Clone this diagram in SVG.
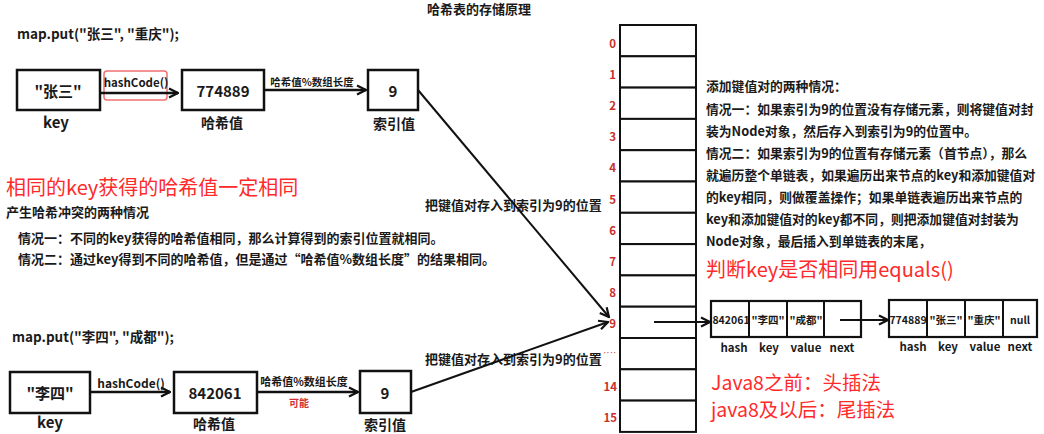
<svg xmlns="http://www.w3.org/2000/svg" width="1044" height="434" viewBox="0 0 1044 434">
<defs>
<marker id="arr" viewBox="0 0 12 12" refX="11" refY="6" markerWidth="12" markerHeight="12" markerUnits="userSpaceOnUse" orient="auto">
<path d="M2,1.5 L11,6 L2,10.5" fill="none" stroke="#111" stroke-width="2.2" stroke-linejoin="miter"/>
</marker>
<style>
text{font-family:"Noto Sans CJK SC","Noto Sans",sans-serif;dominant-baseline:central;fill:#1a1a1a}
.b{font-weight:bold}
.c{text-anchor:middle}
.box{fill:#fff;stroke:#111;stroke-width:2.5}
.cell{fill:#fff;stroke:#111;stroke-width:2}
.ln{stroke:#111;stroke-width:2;fill:none}
.idx{font-weight:bold;font-size:11.5px;fill:#c9302c;text-anchor:end}
.red{fill:#ff2a2a;font-size:20px}
.blk{font-weight:bold;font-size:13px}
.rt{font-weight:bold;font-size:12.8px}
.lbl{font-weight:bold;font-size:11.5px;text-anchor:middle}
.ct{font-weight:bold;font-size:10.5px;text-anchor:middle}
</style>
</defs>
<rect width="1044" height="434" fill="#fff"/>

<text x="479" y="8" class="b c" font-size="13">哈希表的存储原理</text>

<!-- top row -->
<text x="17" y="33" class="b" font-size="13.5">map.put("张三", "重庆");</text>
<g id="key1"><rect class="box" x="17" y="70" width="83" height="40"/><text x="58" y="90" class="b c" font-size="15">"张三"</text><text x="56" y="121" class="b c" font-size="15">key</text></g>
<g id="hash1"><rect class="box" x="182" y="70" width="82" height="40"/><text x="223" y="90" class="b c" font-size="15">774889</text><text x="222" y="122" class="b c" font-size="14">哈希值</text></g>
<g id="idx1"><rect class="box" x="368" y="70" width="50" height="40"/><text x="393" y="90" class="b c" font-size="15">9</text><text x="394" y="123" class="b c" font-size="14">索引值</text></g>
<rect x="104" y="71" width="63" height="29" rx="3" fill="none" stroke="#f07070" stroke-width="1.5"/>

<!-- left texts -->
<text x="6" y="186" class="red">相同的key获得的哈希值一定相同</text>
<text x="6" y="211" class="blk">产生哈希冲突的两种情况</text>
<text x="18" y="237" class="blk">情况一：不同的key获得的哈希值相同，那么计算得到的索引位置就相同。</text>
<text x="18" y="258" class="blk">情况二：通过key得到不同的哈希值，但是通过“哈希值%数组长度”的结果相同。</text>

<text x="425" y="204" class="blk">把键值对存入到索引为9的位置</text>
<text x="425" y="358" class="blk">把键值对存入到索引为9的位置</text>

<!-- bottom row -->
<text x="12" y="336" class="b" font-size="13.5">map.put("李四", "成都");</text>
<g id="key2"><rect class="box" x="10" y="372" width="80" height="41"/><text x="50" y="392" class="b c" font-size="15">"李四"</text><text x="50" y="421" class="b c" font-size="15">key</text></g>
<g id="hash2"><rect class="box" x="174" y="372" width="83" height="41"/><text x="215" y="392" class="b c" font-size="15">842061</text><text x="214" y="423" class="b c" font-size="14">哈希值</text></g>
<g id="idx2"><rect class="box" x="360" y="371" width="51" height="42"/><text x="385" y="392" class="b c" font-size="15">9</text><text x="385" y="424" class="b c" font-size="14">索引值</text></g>
<text x="299" y="402" class="b c" font-size="10" style="fill:#d03030">可能</text>

<!-- array -->
<g id="array">
<rect class="cell" x="620" y="25" width="76" height="31.3"/>
<rect class="cell" x="620" y="56.3" width="76" height="31.3"/>
<rect class="cell" x="620" y="87.6" width="76" height="31.3"/>
<rect class="cell" x="620" y="118.9" width="76" height="31.3"/>
<rect class="cell" x="620" y="150.2" width="76" height="31.3"/>
<rect class="cell" x="620" y="181.5" width="76" height="31.3"/>
<rect class="cell" x="620" y="212.8" width="76" height="31.3"/>
<rect class="cell" x="620" y="244.1" width="76" height="31.3"/>
<rect class="cell" x="620" y="275.4" width="76" height="31.3"/>
<rect class="cell" x="620" y="306.7" width="76" height="31.3"/>
<rect class="cell" x="620" y="338" width="76" height="31.3"/>
<rect class="cell" x="620" y="369.3" width="76" height="31.3"/>
<rect class="cell" x="620" y="400.6" width="76" height="31.3"/>
<text x="616" y="43" class="idx">0</text>
<text x="616" y="74" class="idx">1</text>
<text x="616" y="105" class="idx">2</text>
<text x="616" y="136" class="idx">3</text>
<text x="616" y="167" class="idx">4</text>
<text x="616" y="199" class="idx">5</text>
<text x="616" y="230" class="idx">6</text>
<text x="616" y="261" class="idx">7</text>
<text x="616" y="292" class="idx">8</text>
<text x="616" y="323" class="idx">9</text>
<text x="617" y="386" class="idx">14</text>
<text x="617" y="417" class="idx">15</text>
</g>
<text x="603" y="352" font-size="10" style="fill:#d04040;font-family:'Liberation Sans',sans-serif">····</text>

<!-- right text -->
<text x="706" y="85" class="rt">添加键值对的两种情况：</text>
<text x="706" y="108" class="rt">情况一：如果索引为9的位置没有存储元素，则将键值对封</text>
<text x="706" y="130" class="rt">装为Node对象，然后存入到索引为9的位置中。</text>
<text x="706" y="152" class="rt">情况二：如果索引为9的位置有存储元素（首节点），那么</text>
<text x="706" y="174" class="rt">就遍历整个单链表，如果遍历出来节点的key和添加键值对</text>
<text x="706" y="196" class="rt">的key相同，则做覆盖操作；如果单链表遍历出来节点的</text>
<text x="706" y="218" class="rt">key和添加键值对的key都不同，则把添加键值对封装为</text>
<text x="706" y="240" class="rt">Node对象，最后插入到单链表的末尾，</text>
<text x="706" y="268" class="red">判断key是否相同用equals()</text>

<!-- linked list -->
<g id="node1">
<rect class="box" x="711" y="301" width="150" height="36" style="stroke-width:2.2"/>
<line class="ln" x1="749" y1="301" x2="749" y2="337"/><line class="ln" x1="787" y1="301" x2="787" y2="337"/><line class="ln" x1="824" y1="301" x2="824" y2="337"/>
<text x="731" y="319" class="ct">842061</text><text x="768" y="319" class="ct">"李四"</text><text x="806" y="319" class="ct">"成都"</text>
<text x="734" y="347" class="lbl">hash</text><text x="769" y="347" class="lbl">key</text><text x="806" y="347" class="lbl">value</text><text x="842" y="347" class="lbl">next</text>
</g>
<g id="node2">
<rect class="box" x="889" y="300" width="148" height="37" style="stroke-width:2.2"/>
<line class="ln" x1="927" y1="300" x2="927" y2="337"/><line class="ln" x1="965" y1="300" x2="965" y2="337"/><line class="ln" x1="1003" y1="300" x2="1003" y2="337"/>
<text x="908" y="319" class="ct">774889</text><text x="946" y="319" class="ct">"张三"</text><text x="984" y="319" class="ct">"重庆"</text><text x="1020" y="319" class="ct" font-size="11">null</text>
<text x="913" y="346" class="lbl">hash</text><text x="948" y="346" class="lbl">key</text><text x="985" y="346" class="lbl">value</text><text x="1020" y="346" class="lbl">next</text>
</g>

<text x="711" y="381" class="red" font-size="19" style="font-size:19.5px">Java8之前：头插法</text>
<text x="711" y="408" class="red" style="font-size:19.5px">java8及以后：尾插法</text>

<!-- connectors -->
<g id="connectors">
<line class="ln" x1="100" y1="93" x2="178" y2="93" marker-end="url(#arr)" style="stroke-width:2.5"/>
<text x="136" y="82" class="b c" font-size="11.5">hashCode()</text>
<line class="ln" x1="264" y1="90" x2="366" y2="90" marker-end="url(#arr)" style="stroke-width:2.5"/>
<text x="312" y="81" class="b c" font-size="10.5">哈希值%数组长度</text>
<line class="ln" x1="418" y1="90" x2="609" y2="317" marker-end="url(#arr)"/>
<line class="ln" x1="90" y1="392" x2="170" y2="392" marker-end="url(#arr)" style="stroke-width:2.5"/>
<text x="131" y="382" class="b c" font-size="12">hashCode()</text>
<line class="ln" x1="257" y1="392" x2="358" y2="392" marker-end="url(#arr)" style="stroke-width:2.5"/>
<text x="304" y="381" class="b c" font-size="11">哈希值%数组长度</text>
<line class="ln" x1="411" y1="392" x2="608" y2="322" marker-end="url(#arr)"/>
<line class="ln" x1="654" y1="322" x2="710" y2="322" marker-end="url(#arr)"/>
<line class="ln" x1="840" y1="320" x2="888" y2="320" marker-end="url(#arr)"/>
</g>
</svg>
